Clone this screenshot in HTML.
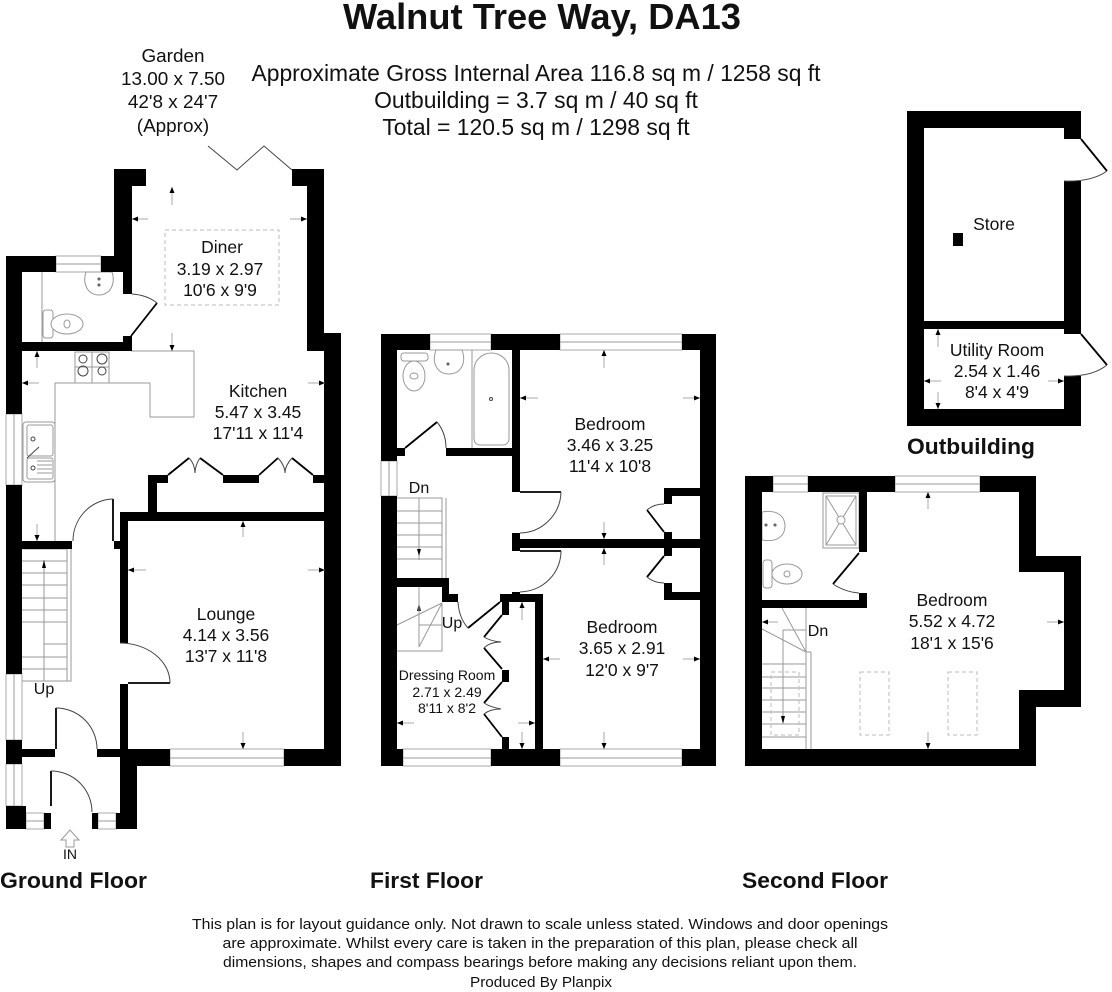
<!DOCTYPE html>
<html><head><meta charset="utf-8"><title>Walnut Tree Way, DA13</title>
<style>
html,body{margin:0;padding:0;background:#fff;width:1112px;height:992px;overflow:hidden}
svg{display:block}
text{font-family:"Liberation Sans",Arial,sans-serif;fill:#111;text-anchor:middle}
.b{font-weight:bold}
.r{font-size:17.5px}
.gd{font-size:18.9px}
.h{font-size:22.9px}
.g{fill:none;stroke:#999;stroke-width:1}
.k{fill:none;stroke:#000;stroke-width:1.8}
.a{fill:none;stroke:#444;stroke-width:1}
.d{fill:none;stroke:#bbb;stroke-width:1;stroke-dasharray:4 3}
.f{fill:#fff;stroke:#999;stroke-width:1}
.w{fill:#fff;stroke:#aaa;stroke-width:1}
.ar{stroke:#aaa;stroke-width:1;marker-end:url(#m)}
</style></head><body>
<svg width="1112" height="992" viewBox="0 0 1112 992" xmlns="http://www.w3.org/2000/svg">
<defs><marker id="m" markerWidth="7" markerHeight="6" refX="6" refY="2.5" orient="auto" markerUnits="userSpaceOnUse"><path d="M0 0L6 2.5L0 5Z" fill="#000"/></marker></defs>

<!-- Header -->
<text x="542" y="29" class="b" font-size="36.5" textLength="398" lengthAdjust="spacingAndGlyphs">Walnut Tree Way, DA13</text>
<text x="536" y="81" class="h" textLength="569" lengthAdjust="spacingAndGlyphs">Approximate Gross Internal Area 116.8 sq m / 1258 sq ft</text>
<text x="536" y="108" class="h">Outbuilding = 3.7 sq m / 40 sq ft</text>
<text x="536" y="135" class="h">Total = 120.5 sq m / 1298 sq ft</text>
<text x="173" y="62" class="gd">Garden</text>
<text x="173" y="85" class="gd">13.00 x 7.50</text>
<text x="173" y="108" class="gd">42'8 x 24'7</text>
<text x="173" y="132" class="gd">(Approx)</text>

<!-- GROUND FLOOR windows -->
<rect class="w" x="56" y="256" width="45" height="16"/><line class="g" x1="56" y1="264" x2="101" y2="264"/>
<rect class="w" x="6" y="414" width="16" height="71"/><line class="g" x1="14" y1="414" x2="14" y2="485"/>
<rect class="w" x="6" y="674" width="16" height="66"/><line class="g" x1="14" y1="674" x2="14" y2="740"/>
<rect class="w" x="6" y="764" width="16" height="42"/><line class="g" x1="14" y1="764" x2="14" y2="806"/>
<rect class="w" x="26" y="813" width="18" height="16"/><line class="g" x1="26" y1="821" x2="44" y2="821"/>
<rect class="w" x="98" y="813" width="18" height="16"/><line class="g" x1="98" y1="821" x2="116" y2="821"/>
<rect class="w" x="170" y="749" width="114" height="17"/><line class="g" x1="170" y1="758" x2="284" y2="758"/>

<!-- counter -->
<path class="g" d="M131 351H194V417H150V383H55V541"/>
<!-- hob -->
<rect class="f" x="75" y="352" width="34" height="31"/>
<line class="g" x1="92" y1="352" x2="92" y2="383"/><line class="g" x1="75" y1="367" x2="109" y2="367"/>
<circle class="a" cx="83" cy="359" r="4"/><circle class="a" cx="102" cy="359" r="5"/><circle class="a" cx="83" cy="371" r="5"/><circle class="a" cx="102" cy="371" r="4"/>
<!-- sink -->
<rect class="f" x="23" y="422" width="32" height="60" rx="3"/>
<rect class="g" x="27" y="425" width="26" height="31" rx="2"/><rect class="g" x="27" y="458" width="26" height="21" rx="2"/>
<path class="a" d="M27 458L39 447"/><circle class="a" cx="33" cy="439" r="2"/><circle class="a" cx="33" cy="468" r="2"/>
<path class="g" d="M37 461H52M37 465H52M37 469H52M37 473H52"/>
<!-- WC/basin -->
<line class="g" x1="42" y1="272" x2="42" y2="342"/>
<path class="f" d="M86 272C82 284 88 295 99 295C110 295 116 284 112 272Z"/><circle class="a" cx="99" cy="279" r="1"/><circle class="a" cx="99" cy="285" r="1"/>
<rect class="f" x="43" y="310" width="10" height="28" rx="3"/><ellipse class="f" cx="67" cy="324" rx="16" ry="10"/><ellipse class="g" cx="67" cy="324" rx="3" ry="4"/>
<!-- stairs -->
<path class="g" d="M22 549H67V681H22M71 549V681H67M22 561H67M22 573H67M22 585H67M22 598H67M22 610H67M22 622H67M44 644H67M22 657H67M22 669H67M44 560V681"/>
<path d="M44 560L42 568H46Z" fill="#000"/>

<!-- walls -->
<g fill="#000">
<rect x="114" y="169" width="32" height="17"/><rect x="114" y="169" width="18" height="103"/>
<rect x="6" y="256" width="50" height="16"/><rect x="101" y="256" width="31" height="16"/>
<rect x="123" y="272" width="9" height="22"/><rect x="123" y="336" width="9" height="15"/>
<rect x="22" y="342" width="109" height="9"/>
<rect x="6" y="256" width="16" height="158"/><rect x="6" y="485" width="16" height="189"/><rect x="6" y="740" width="16" height="24"/>
<rect x="6" y="806" width="20" height="23"/><rect x="44" y="813" width="7" height="16"/><rect x="92" y="813" width="6" height="16"/><rect x="116" y="813" width="21" height="16"/>
<rect x="120" y="749" width="17" height="80"/>
<rect x="292" y="169" width="32" height="17"/><rect x="307" y="169" width="17" height="182"/>
<rect x="324" y="333" width="17" height="433"/>
<rect x="120" y="512" width="221" height="9"/><rect x="120" y="512" width="8" height="131"/><rect x="120" y="684" width="8" height="75"/>
<rect x="120" y="749" width="50" height="17"/><rect x="284" y="749" width="57" height="17"/>
<rect x="148" y="475" width="20" height="8"/><rect x="223" y="475" width="36" height="8"/><rect x="313" y="475" width="12" height="8"/>
<rect x="148" y="475" width="9" height="37"/>
<rect x="22" y="541" width="50" height="8"/><rect x="114" y="541" width="6" height="8"/>
<rect x="22" y="749" width="33" height="8"/><rect x="97" y="749" width="23" height="8"/>
</g>
<!-- ground doors -->
<path class="k" d="M113 499V541M56 708V749M51 771V806M128 683H170M157 303L131 336"/>
<path class="a" d="M113 499A41 42 0 0 0 73 541M120 643A50 40 0 0 1 170 683M56 708A41 41 0 0 1 97 749M51 771A41 41 0 0 1 92 812M132 294Q147 295 157 303"/>
<path class="k" d="M168 475L189 458M200 458L223 475M259 475L278 458M292 458L313 475"/>
<path class="a" d="M189 458C193 462 195 468 195 473C195 468 197 462 200 458M278 458C282 462 285 468 285 473C285 468 288 462 292 458"/>
<path class="a" d="M208 146L237 170L264 146L292 170"/>
<rect class="d" x="165" y="230" width="114" height="75"/>

<!-- FIRST FLOOR -->
<rect class="w" x="430" y="334" width="61" height="16"/><line class="g" x1="430" y1="342" x2="491" y2="342"/>
<rect class="w" x="560" y="334" width="122" height="16"/><line class="g" x1="560" y1="342" x2="682" y2="342"/>
<rect class="w" x="381" y="461" width="16" height="35"/><line class="g" x1="389" y1="461" x2="389" y2="496"/>
<rect class="w" x="403" y="749" width="88" height="17"/><line class="g" x1="403" y1="758" x2="491" y2="758"/>
<rect class="w" x="560" y="749" width="122" height="17"/><line class="g" x1="560" y1="758" x2="682" y2="758"/>
<!-- fixtures -->
<line class="g" x1="472" y1="350" x2="472" y2="448"/>
<path class="f" d="M474 438V370A17.500 17 0 0 1 509 370V438Q509 445 502 445H481Q474 445 474 438Z"/><circle class="a" cx="491" cy="399" r="1.500"/>
<rect class="f" x="401" y="353" width="27" height="8" rx="3"/><ellipse class="f" cx="414" cy="376" rx="11" ry="15"/><ellipse class="g" cx="414" cy="376" rx="4" ry="3"/>
<path class="f" d="M436 350C431 364 438 374 449 374C460 374 467 364 462 350Z"/><circle class="a" cx="448" cy="364" r="1"/>
<!-- stairs -->
<path class="g" d="M397 498H442V578M446 498V578M397 511H442M397 523H442M397 535H442M397 547H442M397 559H442M419 498V560"/>
<path d="M419 556L417 549H421Z" fill="#000"/>
<path class="g" d="M442 603L397 625M442 603L419 647M419 587V647M419 625H442M442 603V651H397"/>
<path d="M419 603L417 611H421Z" fill="#000"/>
<line class="g" x1="419" y1="603" x2="419" y2="612"/>
<g fill="#000">
<rect x="381" y="334" width="49" height="16"/><rect x="491" y="334" width="69" height="16"/><rect x="682" y="334" width="34" height="16"/>
<rect x="381" y="334" width="16" height="127"/><rect x="381" y="496" width="16" height="270"/>
<rect x="700" y="334" width="16" height="432"/>
<rect x="381" y="749" width="22" height="17"/><rect x="491" y="749" width="69" height="17"/><rect x="682" y="749" width="34" height="17"/>
<rect x="512" y="350" width="8" height="142"/><rect x="446" y="448" width="66" height="8"/><rect x="397" y="448" width="8" height="8"/>
<rect x="512" y="539" width="188" height="9"/><rect x="512" y="533" width="8" height="18"/>
<rect x="664" y="488" width="36" height="8"/><rect x="664" y="488" width="8" height="16"/><rect x="664" y="532" width="8" height="24"/>
<rect x="664" y="583" width="8" height="17"/><rect x="664" y="592" width="36" height="8"/>
<rect x="397" y="578" width="52" height="9"/><rect x="442" y="578" width="7" height="24"/><rect x="442" y="594" width="16" height="8"/>
<rect x="500" y="594" width="43" height="8"/><rect x="512" y="592" width="8" height="4"/><rect x="502" y="594" width="7" height="21"/>
<rect x="535" y="594" width="8" height="155"/>
<rect x="502" y="670" width="7" height="12"/><rect x="502" y="737" width="7" height="12"/>
</g>
<path class="k" d="M405 448L437 422M520 492H561M520 551H561M647 510L664 532M664 556L647 577M468 628L500 602M502 615L484 637M484 648L502 669M502 682L484 703M484 714L502 737"/>
<path class="a" d="M437 422Q446 433 446 448M561 492A42 42 0 0 1 520 533M561 551A42 41 0 0 1 520 592M664 504Q654 504 647 510M647 577Q654 583 664 583M458 602Q459 618 468 628M484 637Q490 641 501 642Q490 642 484 648M484 703Q490 707 501 709Q490 709 484 714"/>

<!-- SECOND FLOOR -->
<rect class="w" x="773" y="476" width="35" height="16"/><line class="g" x1="773" y1="484" x2="808" y2="484"/>
<rect class="w" x="895" y="476" width="85" height="16"/><line class="g" x1="895" y1="484" x2="980" y2="484"/>
<!-- fixtures -->
<rect class="f" x="823" y="493" width="36" height="55"/><rect class="g" x="826" y="496" width="30" height="49"/>
<path class="g" d="M826 496L856 545M856 496L826 545"/><circle class="f" cx="841" cy="520" r="4"/>
<path class="f" d="M762 512C778 509 785 517 785 526C785 535 778 543 762 540Z"/><circle class="a" cx="766" cy="525" r="1"/><circle class="a" cx="775" cy="525" r="1"/>
<rect class="f" x="763" y="560" width="9" height="28" rx="3"/><ellipse class="f" cx="787" cy="574" rx="15" ry="10"/><circle class="g" cx="787" cy="574" r="3"/>
<!-- stairs -->
<path class="g" d="M806 608V652M782 608L806 652M762 629L806 652M783 630H806M783 630V722M806 652V749M811 652V749M762 664H806M762 677H806M762 688H806M762 700H806M762 712H806M762 724H806M762 737H806M806 652H811"/>
<path d="M783 724L781 716H785Z" fill="#000"/>
<rect class="d" x="771" y="672" width="28" height="63"/><rect class="d" x="860" y="672" width="29" height="63"/><rect class="d" x="948" y="672" width="29" height="63"/>
<g fill="#000">
<rect x="745" y="476" width="28" height="16"/><rect x="808" y="476" width="87" height="16"/><rect x="980" y="476" width="56" height="16"/>
<rect x="745" y="476" width="17" height="290"/><rect x="745" y="749" width="291" height="17"/>
<rect x="1019" y="476" width="17" height="96"/><rect x="1019" y="556" width="62" height="16"/>
<rect x="1064" y="556" width="17" height="151"/><rect x="1019" y="690" width="62" height="17"/><rect x="1019" y="690" width="17" height="76"/>
<rect x="859" y="492" width="8" height="60"/><rect x="859" y="593" width="8" height="15"/><rect x="762" y="600" width="105" height="8"/>
</g>
<path class="k" d="M859 553L833 584"/><path class="a" d="M833 584Q845 592 859 593"/>

<!-- OUTBUILDING -->
<g fill="#000">
<rect x="907" y="111" width="174" height="17"/><rect x="907" y="111" width="17" height="315"/><rect x="907" y="409" width="174" height="17"/>
<rect x="1064" y="111" width="17" height="28"/><rect x="1064" y="181" width="17" height="153"/><rect x="1064" y="376" width="17" height="50"/>
<rect x="924" y="321" width="140" height="8"/><rect x="953" y="233" width="10" height="13"/>
</g>
<path class="k" d="M1081 139L1107 171M1081 334L1107 365"/>
<path class="a" d="M1107 171Q1092 182 1064 181M1107 365Q1092 377 1064 376"/>

<!-- Arrows -->
<g>
<line class="ar" x1="172" y1="205" x2="172" y2="187"/><line class="ar" x1="148" y1="219" x2="132" y2="219"/><line class="ar" x1="290" y1="219" x2="307" y2="219"/><line class="ar" x1="172" y1="333" x2="172" y2="351"/>
<line class="ar" x1="39" y1="383" x2="22" y2="383"/><line class="ar" x1="308" y1="383" x2="325" y2="383"/><line class="ar" x1="37" y1="368" x2="37" y2="351"/><line class="ar" x1="37" y1="524" x2="37" y2="541"/>
<line class="ar" x1="243" y1="537" x2="243" y2="521"/><line class="ar" x1="146" y1="570" x2="128" y2="570"/><line class="ar" x1="308" y1="570" x2="325" y2="570"/><line class="ar" x1="243" y1="732" x2="243" y2="749"/>
<line class="ar" x1="604" y1="368" x2="604" y2="350"/><line class="ar" x1="538" y1="398" x2="520" y2="398"/><line class="ar" x1="683" y1="398" x2="700" y2="398"/><line class="ar" x1="604" y1="522" x2="604" y2="539"/>
<line class="ar" x1="604" y1="565" x2="604" y2="548"/><line class="ar" x1="560" y1="659" x2="543" y2="659"/><line class="ar" x1="683" y1="659" x2="700" y2="659"/><line class="ar" x1="604" y1="732" x2="604" y2="749"/>
<line class="ar" x1="414" y1="723" x2="397" y2="723"/><line class="ar" x1="518" y1="723" x2="535" y2="723"/><line class="ar" x1="522" y1="620" x2="522" y2="602"/><line class="ar" x1="522" y1="732" x2="522" y2="749"/>
<line class="ar" x1="928" y1="509" x2="928" y2="492"/><line class="ar" x1="1047" y1="622" x2="1064" y2="622"/><line class="ar" x1="928" y1="732" x2="928" y2="749"/><line class="ar" x1="778" y1="622" x2="762" y2="622"/>
<line class="ar" x1="938" y1="347" x2="938" y2="329"/><line class="ar" x1="938" y1="392" x2="938" y2="409"/><line class="ar" x1="941" y1="381" x2="924" y2="381"/><line class="ar" x1="1048" y1="381" x2="1064" y2="381"/>
</g>
<!-- IN arrow -->
<path class="g" d="M61 840L70 830L79 840H74V847H66V840Z"/>

<!-- Room labels -->
<g class="r">
<text x="222" y="253" class="r">Diner</text><text x="220" y="275" class="r">3.19 x 2.97</text><text x="220" y="296" class="r">10'6 x 9'9</text>
<text x="258" y="397" class="r">Kitchen</text><text x="258" y="418" class="r">5.47 x 3.45</text><text x="258" y="439" class="r">17'11 x 11'4</text>
<text x="226" y="620" class="r">Lounge</text><text x="226" y="641" class="r">4.14 x 3.56</text><text x="226" y="662" class="r">13'7 x 11'8</text>
<text x="610" y="430" class="r">Bedroom</text><text x="610" y="451" class="r">3.46 x 3.25</text><text x="610" y="472" class="r">11'4 x 10'8</text>
<text x="622" y="633" class="r">Bedroom</text><text x="622" y="654" class="r">3.65 x 2.91</text><text x="622" y="676" class="r">12'0 x 9'7</text>
<text x="952" y="606" class="r">Bedroom</text><text x="952" y="627" class="r">5.52 x 4.72</text><text x="952" y="649" class="r">18'1 x 15'6</text>
<text x="994" y="230" class="r">Store</text>
<text x="997" y="356" class="r">Utility Room</text><text x="997" y="377" class="r">2.54 x 1.46</text><text x="997" y="398" class="r">8'4 x 4'9</text>
</g>
<text x="447" y="680" font-size="14">Dressing Room</text><text x="447" y="697" font-size="14">2.71 x 2.49</text><text x="447" y="713" font-size="14">8'11 x 8'2</text>
<text x="419" y="493" font-size="16">Dn</text><text x="452" y="628" font-size="16">Up</text><text x="44" y="694" font-size="16">Up</text><text x="818" y="636" font-size="16">Dn</text>
<text x="70" y="859" font-size="14">IN</text>
<text x="971" y="454" class="b" font-size="22" textLength="128" lengthAdjust="spacingAndGlyphs">Outbuilding</text>
<text x="73.500" y="888" class="b" font-size="22" textLength="147" lengthAdjust="spacingAndGlyphs">Ground Floor</text>
<text x="426.500" y="888" class="b" font-size="22" textLength="113" lengthAdjust="spacingAndGlyphs">First Floor</text>
<text x="815" y="888" class="b" font-size="22" textLength="146" lengthAdjust="spacingAndGlyphs">Second Floor</text>

<!-- Footer -->
<text x="540" y="929" font-size="15" textLength="696" lengthAdjust="spacingAndGlyphs">This plan is for layout guidance only. Not drawn to scale unless stated. Windows and door openings</text>
<text x="540" y="948" font-size="15" textLength="635" lengthAdjust="spacingAndGlyphs">are approximate. Whilst every care is taken in the preparation of this plan, please check all</text>
<text x="540" y="967" font-size="15" textLength="634" lengthAdjust="spacingAndGlyphs">dimensions, shapes and compass bearings before making any decisions reliant upon them.</text>
<text x="541" y="987" font-size="15" textLength="142" lengthAdjust="spacingAndGlyphs">Produced By Planpix</text>
</svg>
</body></html>
